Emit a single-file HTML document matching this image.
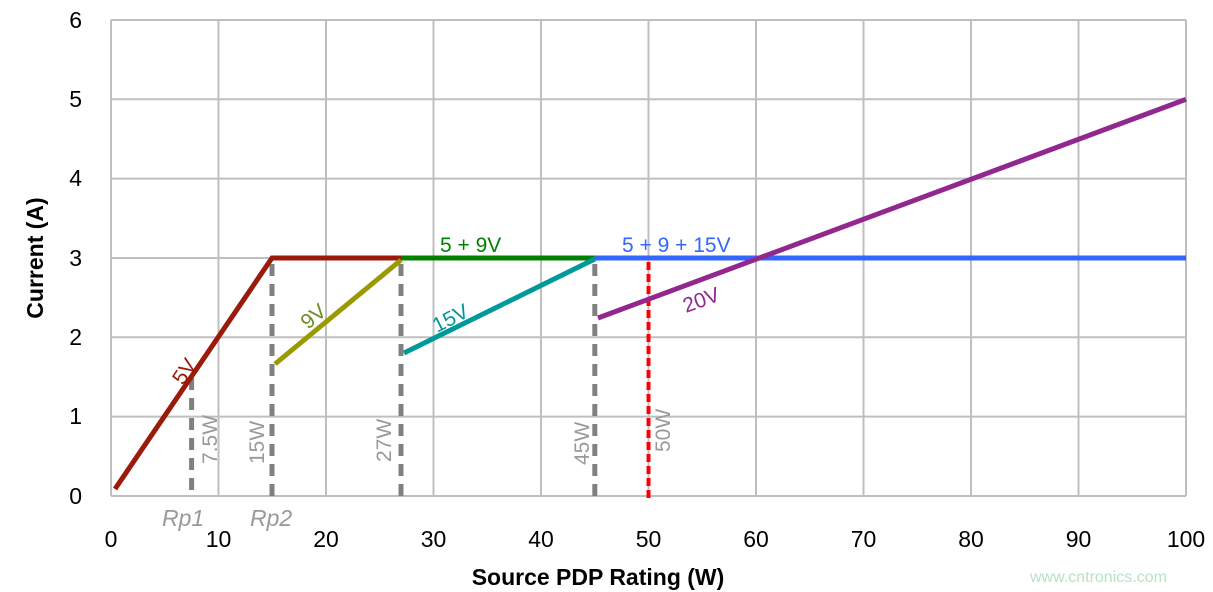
<!DOCTYPE html>
<html><head><meta charset="utf-8"><style>
body{margin:0;background:#fff}
svg{display:block;font-family:"Liberation Sans",sans-serif}
</style></head><body>
<svg width="1213" height="592" viewBox="0 0 1213 592">
<g stroke="#bfbfbf" stroke-width="2" fill="none">
<line x1="111" y1="20" x2="1186" y2="20"/>
<line x1="111" y1="99.3" x2="1186" y2="99.3"/>
<line x1="111" y1="178.6" x2="1186" y2="178.6"/>
<line x1="111" y1="258" x2="1186" y2="258"/>
<line x1="111" y1="337.3" x2="1186" y2="337.3"/>
<line x1="111" y1="416.6" x2="1186" y2="416.6"/>
<line x1="111" y1="496" x2="1186" y2="496"/>
<line x1="111" y1="20" x2="111" y2="496"/>
<line x1="218.5" y1="20" x2="218.5" y2="496"/>
<line x1="326" y1="20" x2="326" y2="496"/>
<line x1="433.5" y1="20" x2="433.5" y2="496"/>
<line x1="541" y1="20" x2="541" y2="496"/>
<line x1="648.5" y1="20" x2="648.5" y2="496"/>
<line x1="756" y1="20" x2="756" y2="496"/>
<line x1="863.5" y1="20" x2="863.5" y2="496"/>
<line x1="971" y1="20" x2="971" y2="496"/>
<line x1="1078.5" y1="20" x2="1078.5" y2="496"/>
<line x1="1186" y1="20" x2="1186" y2="496"/>
</g>
<g stroke="#808080" stroke-width="5" stroke-dasharray="12,8" fill="none">
<line x1="191.6" y1="378" x2="191.6" y2="497"/>
<line x1="272" y1="264" x2="272" y2="497"/>
<line x1="401" y1="264" x2="401" y2="497"/>
<line x1="594.8" y1="264" x2="594.8" y2="497"/>
</g>
<line x1="648.5" y1="262" x2="648.5" y2="499" stroke="#ff0000" stroke-width="4" stroke-dasharray="8,4"/>
<g stroke-width="5" fill="none" stroke-linecap="butt">
<polyline points="115,489 272,258 401,258" stroke="#9b1a0a"/>
<line x1="275" y1="364" x2="401" y2="260" stroke="#999900"/>
<line x1="401" y1="258" x2="594.8" y2="258" stroke="#008000"/>
<line x1="404" y1="353" x2="594.8" y2="259" stroke="#009999"/>
<line x1="594.8" y1="258" x2="1186" y2="258" stroke="#3366ff"/>
<line x1="598" y1="318" x2="1186" y2="99.3" stroke="#92278f"/>
</g>
<g font-size="21">
<text x="0" y="0" fill="#9b1a0a" transform="translate(183,386) rotate(-56)">5V</text>
<text x="0" y="0" fill="#6b8e23" transform="translate(308,330) rotate(-40)">9V</text>
<text x="0" y="0" fill="#009999" transform="translate(437,333) rotate(-27)">15V</text>
<text x="0" y="0" fill="#92278f" transform="translate(686,313) rotate(-20)">20V</text>
<text x="440" y="252" fill="#008000">5 + 9V</text>
<text x="622" y="252" fill="#3366ff">5 + 9 + 15V</text>
<g fill="#999">
<text transform="translate(217,464) rotate(-90)">7.5W</text>
<text transform="translate(264,464) rotate(-90)">15W</text>
<text transform="translate(391,462) rotate(-90)">27W</text>
<text transform="translate(589,465) rotate(-90)">45W</text>
<text transform="translate(670,452) rotate(-90)">50W</text>
<text x="162" y="526" font-style="italic" font-size="23">Rp1</text>
<text x="250" y="526" font-style="italic" font-size="23">Rp2</text>
</g>
<g font-size="23" fill="#000" text-anchor="middle">
<text x="111" y="547">0</text><text x="218.5" y="547">10</text><text x="326" y="547">20</text>
<text x="433.5" y="547">30</text><text x="541" y="547">40</text><text x="648.5" y="547">50</text>
<text x="756" y="547">60</text><text x="863.5" y="547">70</text><text x="971" y="547">80</text>
<text x="1078.5" y="547">90</text><text x="1186" y="547">100</text>
</g>
<g font-size="23" fill="#000" text-anchor="end">
<text x="82" y="28">6</text><text x="82" y="107">5</text><text x="82" y="186">4</text>
<text x="82" y="266">3</text><text x="82" y="345">2</text><text x="82" y="424">1</text><text x="82" y="504">0</text>
</g>
</g>
<text x="598" y="585" font-size="23" font-weight="bold" text-anchor="middle">Source PDP Rating (W)</text>
<text transform="translate(43,258) rotate(-90)" font-size="23" font-weight="bold" text-anchor="middle">Current (A)</text>
<text x="1030" y="582" font-size="16" fill="#b7e2c4">www.cntronics.com</text>
</svg>
</body></html>
